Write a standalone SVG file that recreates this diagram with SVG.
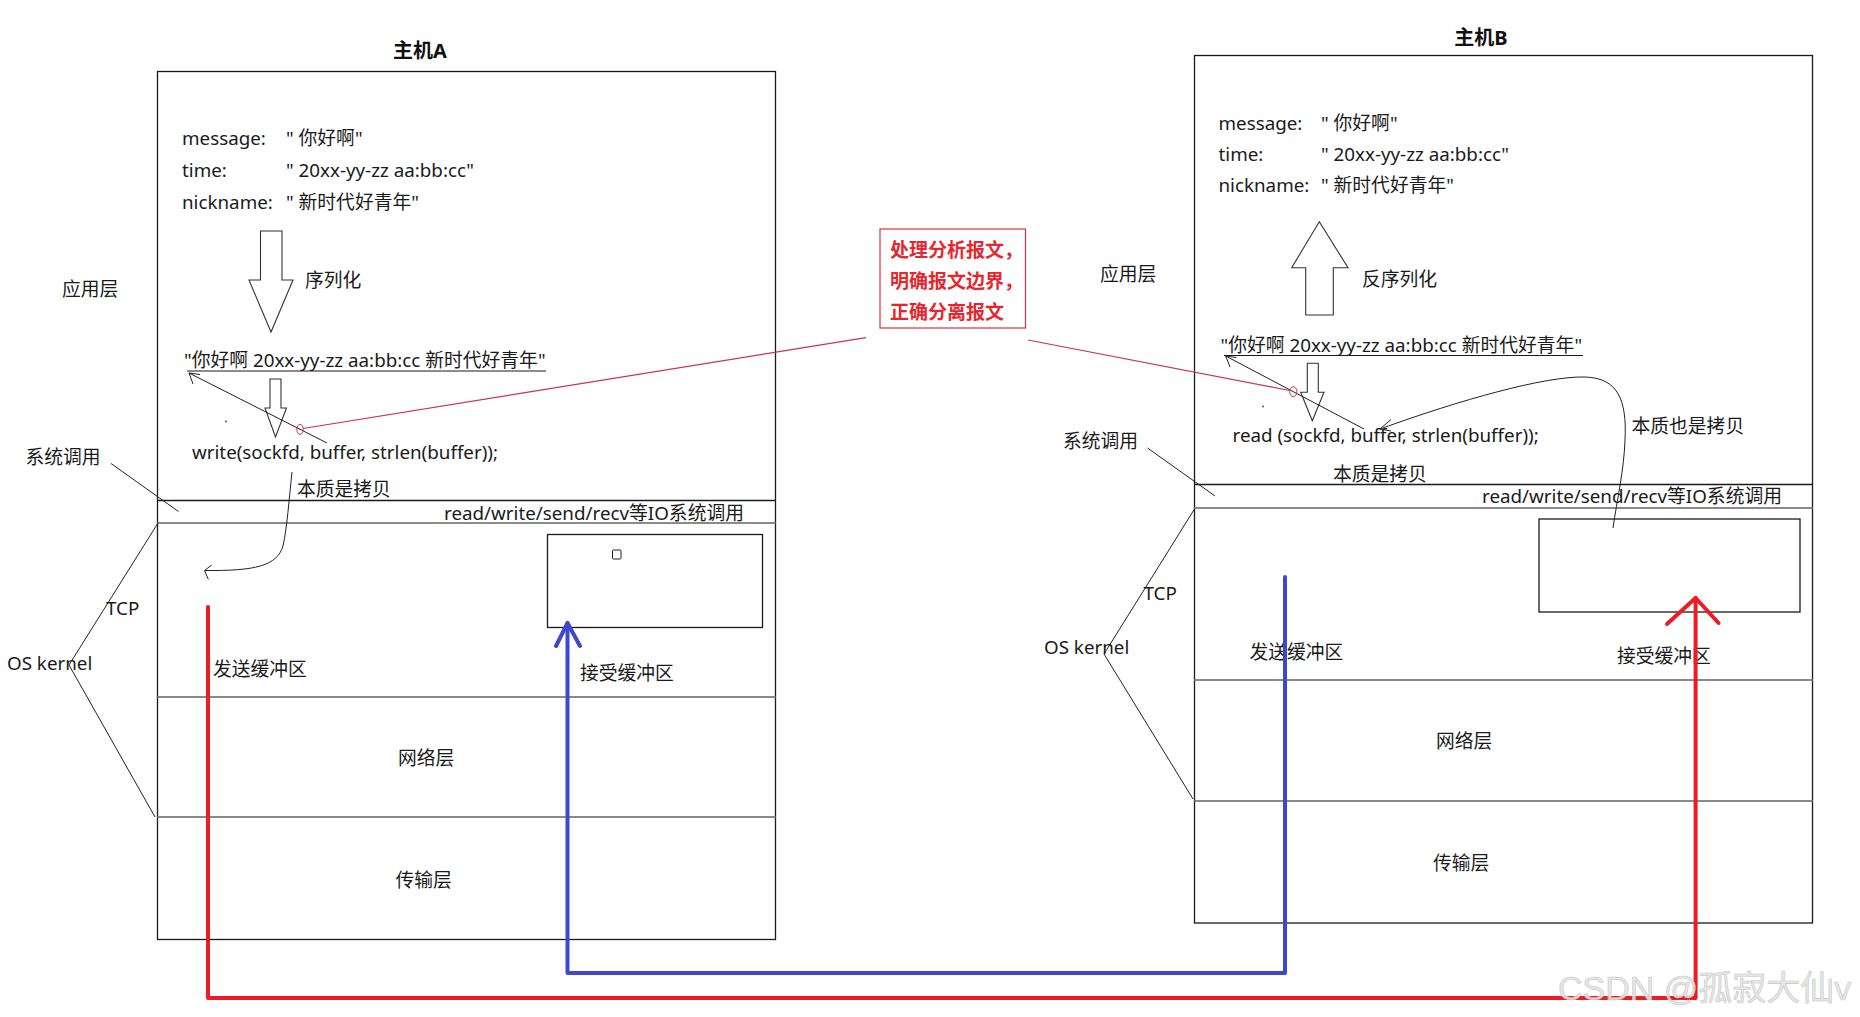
<svg xmlns="http://www.w3.org/2000/svg" width="1860" height="1017" viewBox="0 0 1860 1017">
<style>
.t{font-family:"Noto Sans","Noto Sans CJK SC",sans-serif;font-size:18.8px;fill:#1a1a1a}
.ttl{font-family:"Noto Sans","Noto Sans CJK SC",sans-serif;font-size:20px;font-weight:bold;fill:#111}
.note{font-family:"Noto Sans CJK SC","Noto Sans",sans-serif;font-size:19px;font-weight:bold;fill:#e8262e}
.box{fill:none;stroke:#1a1a1a;stroke-width:1.3}
.sep{stroke:#8a8a8a;stroke-width:2.2}
.thin{fill:none;stroke:#222;stroke-width:1}
.blk{fill:#fff;stroke:#333;stroke-width:1.1}
.red{fill:none;stroke:#ed1c24;stroke-width:4;stroke-linejoin:round;stroke-linecap:round}
.blue{fill:none;stroke:#3f48cc;stroke-width:4;stroke-linejoin:round;stroke-linecap:round}
.ann{fill:none;stroke:#cc3355;stroke-width:1.2}
.wm{font-family:"Liberation Sans","Noto Sans CJK SC",sans-serif;font-size:34px;fill:#e4e4e4;stroke:#c4c4c4;stroke-width:0.6;opacity:0.9}
</style>
<rect width="1860" height="1017" fill="#fff"/>

<!-- Host A -->
<g id="host-a">
  <text class="ttl" x="420" y="58" text-anchor="middle">主机A</text>
  <rect class="box" x="157.5" y="71.5" width="618" height="868"/>
  <line x1="157.5" y1="500.5" x2="775.5" y2="500.5" stroke="#1a1a1a" stroke-width="1.3"/>
  <line class="sep" x1="157.5" y1="523" x2="775.5" y2="523"/>
  <line class="sep" x1="157.5" y1="697" x2="775.5" y2="697"/>
  <line class="sep" x1="157.5" y1="817" x2="775.5" y2="817"/>
  <rect class="box" x="547.5" y="534.5" width="215" height="93"/>
  <rect x="612.5" y="550" width="8.5" height="9" rx="1" fill="none" stroke="#222" stroke-width="1"/>
  <text class="t" x="182" y="145">message:</text>
  <text class="t" x="286" y="145">" 你好啊"</text>
  <text class="t" x="182" y="177">time:</text>
  <text class="t" x="286" y="177">" 20xx-yy-zz aa:bb:cc"</text>
  <text class="t" x="182" y="208.5">nickname:</text>
  <text class="t" x="286" y="208.5">" 新时代好青年"</text>
  <polygon class="blk" points="260.5,231 282,231 282,280 293,280 271,332 249,280 260.5,280"/>
  <text class="t" x="305" y="287">序列化</text>
  <text class="t" x="184" y="367">"你好啊 20xx-yy-zz aa:bb:cc 新时代好青年"</text>
  <line x1="187" y1="371" x2="546" y2="371" stroke="#1a1a1a" stroke-width="1.2"/>
  <polygon class="blk" points="270,379 281,379 281,408 286.5,408 275.5,437 265,408 270,408"/>
  <text class="t" x="192" y="459">write(sockfd, buffer, strlen(buffer));</text>
  <text class="t" x="297" y="496">本质是拷贝</text>
  <text class="t" x="444" y="519.5">read/write/send/recv等IO系统调用</text>
  <text class="t" x="213" y="676">发送缓冲区</text>
  <text class="t" x="580" y="680">接受缓冲区</text>
  <text class="t" x="398" y="765">网络层</text>
  <text class="t" x="395.5" y="887">传输层</text>
  <circle cx="226" cy="421.5" r="0.9" fill="#444"/>
</g>

<!-- Host A side labels -->
<g id="host-a-labels">
  <text class="t" x="62" y="296">应用层</text>
  <text class="t" x="25.5" y="463.5">系统调用</text>
  <text class="t" x="106" y="615">TCP</text>
  <text class="t" x="7" y="670">OS kernel</text>
</g>

<!-- Host B -->
<g id="host-b">
  <text class="ttl" x="1481" y="44.5" text-anchor="middle">主机B</text>
  <rect class="box" x="1194.5" y="55.5" width="618" height="867.5"/>
  <line x1="1194.5" y1="484.5" x2="1812.5" y2="484.5" stroke="#1a1a1a" stroke-width="1.3"/>
  <line class="sep" x1="1194.5" y1="508" x2="1812.5" y2="508"/>
  <line class="sep" x1="1194.5" y1="680" x2="1812.5" y2="680"/>
  <line class="sep" x1="1194.5" y1="801" x2="1812.5" y2="801"/>
  <rect class="box" x="1539" y="519" width="261" height="93"/>
  <text class="t" x="1218.5" y="130">message:</text>
  <text class="t" x="1321" y="130">" 你好啊"</text>
  <text class="t" x="1218.5" y="161">time:</text>
  <text class="t" x="1321" y="161">" 20xx-yy-zz aa:bb:cc"</text>
  <text class="t" x="1218.5" y="192">nickname:</text>
  <text class="t" x="1321" y="192">" 新时代好青年"</text>
  <polygon class="blk" points="1319.3,221.7 1348,267.7 1333.3,267.7 1333.3,315 1305.7,315 1305.7,267.7 1291.7,267.7"/>
  <text class="t" x="1362" y="286">反序列化</text>
  <text class="t" x="1220.5" y="352">"你好啊 20xx-yy-zz aa:bb:cc 新时代好青年"</text>
  <line x1="1224" y1="355.5" x2="1583" y2="355.5" stroke="#1a1a1a" stroke-width="1.2"/>
  <polygon class="blk" points="1307.3,363.3 1318.3,363.3 1318.3,392.3 1324,392.3 1312.3,420.7 1300.7,392.3 1307.3,392.3"/>
  <text class="t" x="1232.5" y="441.5">read (sockfd, buffer, strlen(buffer));</text>
  <text class="t" x="1333" y="481">本质是拷贝</text>
  <text class="t" x="1631.5" y="432.5">本质也是拷贝</text>
  <text class="t" x="1482" y="503">read/write/send/recv等IO系统调用</text>
  <text class="t" x="1249.5" y="659">发送缓冲区</text>
  <text class="t" x="1617" y="663">接受缓冲区</text>
  <text class="t" x="1436" y="748">网络层</text>
  <text class="t" x="1433" y="870">传输层</text>
  <circle cx="1263" cy="406.5" r="0.9" fill="#444"/>
</g>

<!-- Host B side labels -->
<g id="host-b-labels">
  <text class="t" x="1100" y="281">应用层</text>
  <text class="t" x="1063" y="447.5">系统调用</text>
  <text class="t" x="1143.5" y="599.5">TCP</text>
  <text class="t" x="1044" y="654">OS kernel</text>
</g>

<!-- Annotation -->
<g id="note">
  <rect x="880" y="229" width="145.5" height="99" fill="none" stroke="#e0303c" stroke-width="1.2"/>
  <text class="note" x="890" y="257">处理分析报文，</text>
  <text class="note" x="890" y="288">明确报文边界，</text>
  <text class="note" x="890" y="319">正确分离报文</text>
</g>

<!-- Connectors -->
<g id="connectors">
  <!-- thin pointer lines -->
  <line class="thin" x1="111" y1="463.5" x2="178.5" y2="511.5"/>
  <polyline class="thin" points="158,523 69,665 155,817"/>
  <line class="thin" x1="1147.5" y1="448" x2="1215" y2="496"/>
  <polyline class="thin" points="1194.5,509 1104,654 1193,799"/>

  <!-- diagonal arrows to serialized string -->
  <line class="thin" x1="327" y1="443" x2="189" y2="373"/>
  <polyline class="thin" points="200,374.5 189,373 193,384"/>
  <line class="thin" x1="1364" y1="429" x2="1225.7" y2="356"/>
  <polyline class="thin" points="1236.5,357.5 1225.7,356 1230,367"/>

  <!-- copy curves -->
  <path class="thin" d="M292,472 C289,500 287,528 283,546 C277,566 255,571 205,570.5"/>
  <polyline class="thin" points="211.7,565 204.5,570.5 208.3,579.3"/>
  <path class="thin" d="M1613,528 C1617,500 1624,470 1625,440 C1627,400 1618,378 1585,377 C1545,376 1460,400 1380,429"/>
  <polyline class="thin" points="1391,419.5 1380,429 1391,431"/>

  <!-- annotation pointer lines -->
  <ellipse cx="300" cy="429.3" rx="3.2" ry="5" fill="none" stroke="#d0304a" stroke-width="1"/>
  <line class="ann" x1="303" y1="428.5" x2="866" y2="337.7"/>
  <ellipse cx="1293.3" cy="391.7" rx="3.6" ry="5" fill="none" stroke="#d0304a" stroke-width="1"/>
  <line class="ann" x1="1028" y1="340" x2="1289.5" y2="390.5"/>

  <!-- blue: B send buffer -> A receive buffer -->
  <polyline class="blue" points="1285,577 1285,973 567.5,973 567.5,623"/>
  <polyline class="blue" points="556,646 567.5,623 580,646"/>

  <!-- red: A send buffer -> B receive buffer -->
  <polyline class="red" points="208,607 208,998 1695.6,998 1695.6,598"/>
  <polyline class="red" points="1667,624 1695.6,598 1718.5,623"/>
</g>

<text class="wm" x="1558" y="1000">CSDN @孤寂大仙v</text>
</svg>
